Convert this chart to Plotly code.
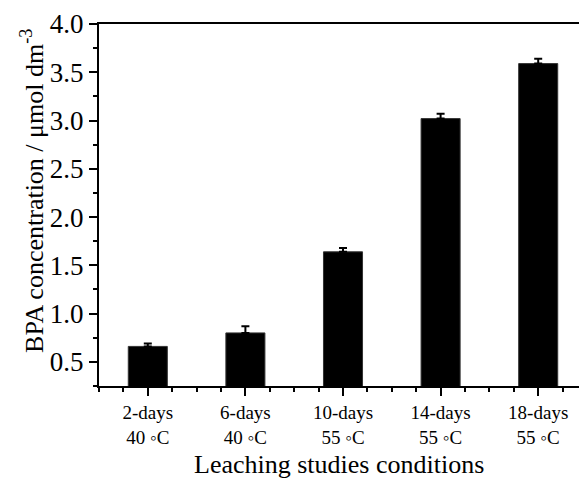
import plotly.graph_objects as go

# Leaching conditions and measured BPA concentrations
conditions = ["2-days<br>40 ◦C", "6-days<br>40 ◦C", "10-days<br>55 ◦C",
              "14-days<br>55 ◦C", "18-days<br>55 ◦C"]
bpa_conc = [0.66, 0.80, 1.64, 3.02, 3.59]
bpa_err = [0.03, 0.07, 0.04, 0.05, 0.05]
y_ticks = [0.5, 1.0, 1.5, 2.0, 2.5, 3.0, 3.5, 4.0]

positions = list(range(len(conditions)))

fig = go.Figure(
    go.Bar(
        x=positions,
        y=bpa_conc,
        width=0.4,
        marker=dict(color="black", line=dict(color="#333333", width=1)),
        error_y=dict(type="data", array=bpa_err, symmetric=False,
                     arrayminus=[0] * len(bpa_err),
                     color="black", thickness=2, width=4),
    )
)

font_family = "Liberation Serif"

fig.update_layout(
    width=579,
    height=484,
    margin=dict(l=99, r=0, t=24, b=98),
    plot_bgcolor="white",
    paper_bgcolor="white",
    showlegend=False,
    font=dict(family=font_family, color="black"),
    xaxis=dict(
        range=[-0.5, 4.418],
        tickmode="array",
        tickvals=positions,
        ticktext=conditions,
        ticks="outside",
        ticklen=8,
        tickwidth=2,
        tickcolor="black",
        tickfont=dict(size=19, family=font_family),
        minor=dict(dtick=0.25, tick0=0, ticks="outside", ticklen=4,
                   tickwidth=2, tickcolor="black"),
        showline=True,
        linecolor="black",
        linewidth=2,
        mirror=True,
        showgrid=False,
        zeroline=False,
    ),
    yaxis=dict(
        range=[0.25, 4.0],
        tickmode="array",
        tickvals=y_ticks,
        ticktext=[f"{v:.1f}" for v in y_ticks],
        ticks="outside",
        ticklen=8,
        tickwidth=2,
        tickcolor="black",
        tickfont=dict(size=27, family=font_family),
        minor=dict(dtick=0.25, tick0=0, ticks="outside", ticklen=4,
                   tickwidth=2, tickcolor="black"),
        showline=True,
        linecolor="black",
        linewidth=2,
        showgrid=False,
        zeroline=False,
    ),
    annotations=[
        dict(text="Leaching studies conditions", xref="paper", yref="paper",
             x=0.5, y=-0.218, xanchor="center", yanchor="middle",
             showarrow=False, font=dict(size=26, family=font_family)),
        dict(text="BPA concentration / μmol dm<sup>-3</sup>",
             xref="paper", yref="paper", x=-0.1375, y=0.539,
             xanchor="center", yanchor="middle", textangle=-90,
             showarrow=False, font=dict(size=26, family=font_family)),
    ],
)

fig.write_html("out.html")
